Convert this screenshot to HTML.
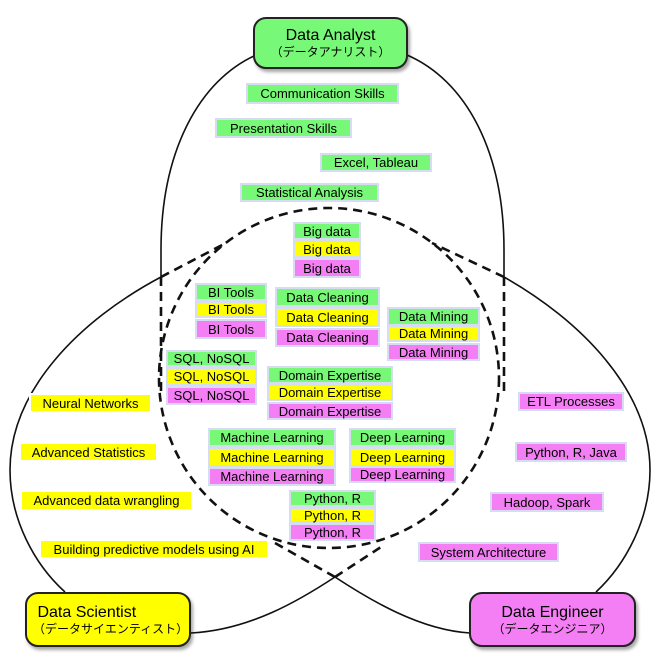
<!DOCTYPE html>
<html><head><meta charset="utf-8"><style>
body{margin:0;width:660px;height:662px;background:#fff;position:relative;overflow:hidden;font-family:"Liberation Sans","Noto Sans CJK JP",sans-serif}
.t{position:absolute;box-sizing:border-box;border:2px solid #d6dcf2;font-size:13px;display:flex;align-items:center;justify-content:center;white-space:nowrap;color:#000}
.g{background:#77f977}.y{background:#ffff00}.p{background:#f47ef4}
.b{position:absolute;box-sizing:border-box;border:2px solid #222;border-radius:13px;box-shadow:2px 3px 3px rgba(0,0,0,.35);text-align:center;font-size:16px;line-height:19px;display:flex;flex-direction:column;justify-content:center;white-space:nowrap}
.b small{font-size:12px;line-height:15px}
</style></head><body>
<svg width="660" height="662" style="position:absolute;left:0;top:0">
<g fill="none" stroke="#111" stroke-width="1.6">
<path d="M256,55 C200,80 161,150 161,250 L161,277"/>
<path d="M407,55 C465,80 504,150 504,250 L504,277"/>
<path d="M161,277 C80,320 10,390 10,470 C10,520 35,565 65,592"/>
<path d="M504,277 C580,320 650,390 650,470 C650,520 625,565 596,592"/>
<path d="M191,633 C250,630 300,600 335,577"/>
<path d="M335,577 C370,600 420,630 470,633"/>
</g>
<g fill="none" stroke="#111" stroke-width="2.6" stroke-dasharray="9 6">
<circle cx="329" cy="378" r="170"/>
<path d="M161,277 L161,395"/><path d="M504,277 L504,395"/>
<path d="M161,277 L226,243"/><path d="M504,277 L432,243"/>
<path d="M335,577 L381,547"/><path d="M275,543 L335,577"/>
</g>
</svg>
<div class="b" style="left:253px;top:17px;width:155px;height:52px;background:#77f977">Data Analyst<small>（データアナリスト）</small></div>
<div class="b" style="left:25px;top:592px;width:166px;height:55px;background:#ffff00;text-align:left;padding-left:6px">&nbsp;Data Scientist<small>（データサイエンティスト）</small></div>
<div class="b" style="left:469px;top:592px;width:167px;height:55px;background:#f47ef4">Data Engineer<small>（データエンジニア）</small></div>

<div class="t g" style="left:246px;top:83px;width:153px;height:21px">Communication Skills</div>
<div class="t g" style="left:215px;top:118px;width:137px;height:20px">Presentation Skills</div>
<div class="t g" style="left:320px;top:153px;width:112px;height:19px">Excel, Tableau</div>
<div class="t g" style="left:240px;top:183px;width:139px;height:19px">Statistical Analysis</div>

<div class="t g" style="left:293px;top:222px;width:68px;height:18px">Big data</div>
<div class="t y" style="left:293px;top:240px;width:68px;height:18px">Big data</div>
<div class="t p" style="left:293px;top:258px;width:68px;height:20px">Big data</div>

<div class="t g" style="left:195px;top:283px;width:72px;height:18px">BI Tools</div>
<div class="t y" style="left:195px;top:301px;width:72px;height:17px">BI Tools</div>
<div class="t p" style="left:195px;top:319px;width:72px;height:20px">BI Tools</div>

<div class="t g" style="left:275px;top:287px;width:105px;height:20px">Data Cleaning</div>
<div class="t y" style="left:275px;top:307px;width:105px;height:20px">Data Cleaning</div>
<div class="t p" style="left:275px;top:328px;width:105px;height:19px">Data Cleaning</div>

<div class="t g" style="left:387px;top:307px;width:93px;height:19px">Data Mining</div>
<div class="t y" style="left:387px;top:325px;width:93px;height:17px">Data Mining</div>
<div class="t p" style="left:387px;top:343px;width:93px;height:18px">Data Mining</div>

<div class="t g" style="left:166px;top:350px;width:91px;height:17px">SQL, NoSQL</div>
<div class="t y" style="left:166px;top:367px;width:91px;height:19px">SQL, NoSQL</div>
<div class="t p" style="left:166px;top:386px;width:91px;height:19px">SQL, NoSQL</div>

<div class="t g" style="left:267px;top:366px;width:126px;height:18px">Domain Expertise</div>
<div class="t y" style="left:267px;top:384px;width:126px;height:17px">Domain Expertise</div>
<div class="t p" style="left:267px;top:402px;width:126px;height:18px">Domain Expertise</div>

<div class="t g" style="left:208px;top:428px;width:128px;height:19px">Machine Learning</div>
<div class="t y" style="left:208px;top:447px;width:128px;height:20px">Machine Learning</div>
<div class="t p" style="left:208px;top:467px;width:128px;height:19px">Machine Learning</div>

<div class="t g" style="left:349px;top:428px;width:107px;height:19px">Deep Learning</div>
<div class="t y" style="left:349px;top:447px;width:107px;height:20px">Deep Learning</div>
<div class="t p" style="left:349px;top:466px;width:107px;height:17px">Deep Learning</div>

<div class="t g" style="left:289px;top:490px;width:87px;height:17px">Python, R</div>
<div class="t y" style="left:289px;top:507px;width:87px;height:16px">Python, R</div>
<div class="t p" style="left:289px;top:523px;width:87px;height:18px">Python, R</div>

<div class="t y" style="left:29px;top:393px;width:123px;height:20px;border-color:#fff">Neural Networks</div>
<div class="t y" style="left:19px;top:442px;width:139px;height:20px;border-color:#fff">Advanced Statistics</div>
<div class="t y" style="left:20px;top:490px;width:173px;height:21px;border-color:#fff">Advanced data wrangling</div>
<div class="t y" style="left:39px;top:539px;width:230px;height:20px;border-color:#fff">Building predictive models using AI</div>

<div class="t p" style="left:518px;top:392px;width:106px;height:19px">ETL Processes</div>
<div class="t p" style="left:515px;top:442px;width:112px;height:20px">Python, R, Java</div>
<div class="t p" style="left:490px;top:492px;width:114px;height:20px">Hadoop, Spark</div>
<div class="t p" style="left:418px;top:542px;width:141px;height:20px">System Architecture</div>
</body></html>
